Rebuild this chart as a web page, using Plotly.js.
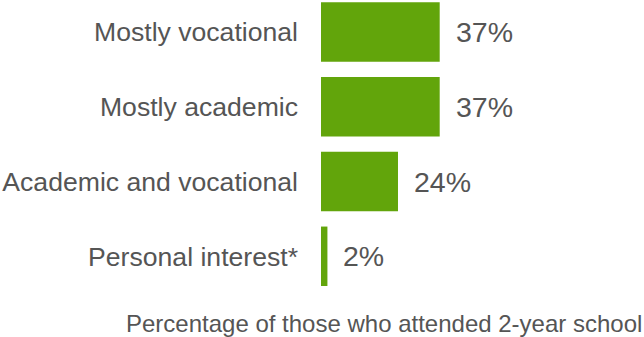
<!DOCTYPE html>
<html>
<head>
<meta charset="utf-8">
<script src="https://cdn.plot.ly/plotly-3.0.1.min.js"></script>
<style>html,body{margin:0;padding:0;background:#fff;}#chart{width:644px;height:337px;}</style>
</head>
<body>
<div id="chart"></div>
<script>
const categories = ["Mostly vocational", "Mostly academic", "Academic and vocational", "Personal interest*"];
const values = [37, 37, 24, 2];
const valueLabels = values.map(v => v + "%");
const axisTitle = "Percentage of those who attended 2-year school";

const FONT = "Liberation Sans, Arial, Helvetica, sans-serif";
const TEXT = "#555555";

const trace = {
  type: "bar",
  orientation: "h",
  x: values,
  y: categories,
  marker: {color: "#62a50b", line: {width: 0}},
  hoverinfo: "none"
};

const annotations = categories.map((c, i) => ({
  x: values[i], y: c, xref: "x", yref: "y",
  text: valueLabels[i], showarrow: false,
  xanchor: "left", yanchor: "middle", xshift: 14,
  font: {family: FONT, size: 28.5, color: TEXT}
}));
const W = 644, H = 337, L = 321, R = 3, T = 0, B = 47;
annotations.push({
  x: (383.5 - L) / (W - L - R), y: (H - B - 323) / (H - T - B),
  xref: "paper", yref: "paper",
  text: axisTitle, showarrow: false,
  xanchor: "center", yanchor: "middle",
  font: {family: FONT, size: 24, color: TEXT}
});

const layout = {
  width: W, height: H,
  margin: {l: L, r: R, t: T, b: B, pad: 0},
  paper_bgcolor: "#ffffff", plot_bgcolor: "#ffffff",
  showlegend: false,
  bargap: 0.205,
  xaxis: {range: [0, 99.75], showgrid: false, zeroline: false, showticklabels: false, showline: false, ticks: ""},
  yaxis: {
    type: "category", categoryorder: "array", categoryarray: categories,
    range: [3.451, -0.428], showgrid: false, zeroline: false, showline: false,
    ticks: "", ticklabelstandoff: 22,
    tickfont: {family: FONT, size: 26.6, color: TEXT}
  },
  annotations: annotations,
  font: {family: FONT, color: TEXT}
};

Plotly.newPlot("chart", [trace], layout, {staticPlot: true, displayModeBar: false});
</script>
</body>
</html>
